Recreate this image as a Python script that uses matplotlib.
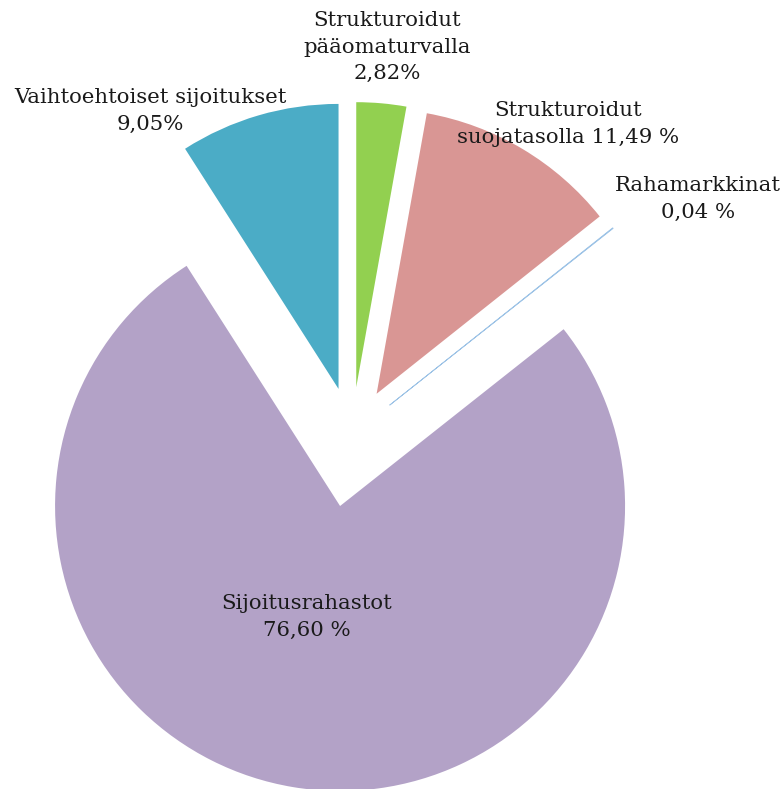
import matplotlib
matplotlib.use("Agg")
import matplotlib.pyplot as plt

# Osuudet (%), myötäpäivään klo 12:sta alkaen
labels = ["Strukturoidut\npääomaturvalla\n2,82%",
          "Strukturoidut\nsuojatasolla 11,49 %",
          "Rahamarkkinat\n0,04 %",
          "Sijoitusrahastot\n76,60 %",
          "Vaihtoehtoiset sijoitukset\n9,05%"]
values = [2.82, 11.49, 0.04, 76.60, 9.05]
colors = ["#92D050", "#D99694", "#9DC3E6", "#B3A2C7", "#4BACC6"]
explode = [48, 48, 48, 72, 48]

W, H = 782, 789
R = 285
cx, cy = 352, H - 435

# label positions (pixels, y from top)
label_pos = [(387, 47), (568, 124), (698, 199), (307, 617), (150, 111)]

fig = plt.figure(figsize=(W / 100, H / 100), dpi=100)
ax = fig.add_axes([0, 0, 1, 1])

wedges, _ = ax.pie(values, colors=colors, startangle=90, counterclock=False,
                   radius=R, center=(cx, cy), explode=explode)
# the tiny money-market slice is drawn as a thin line
wedges[2].set_edgecolor(colors[2])
wedges[2].set_linewidth(0.6)

for lab, (x, y) in zip(labels, label_pos):
    ax.text(x, H - y, lab, ha="center", va="center", fontsize=15.3,
            family="DejaVu Serif", color="#1a1a1a", linespacing=1.5)

ax.set_xlim(0, W)
ax.set_ylim(0, H)
ax.set_aspect("equal")
ax.axis("off")

fig.savefig("out.png", dpi=100)
